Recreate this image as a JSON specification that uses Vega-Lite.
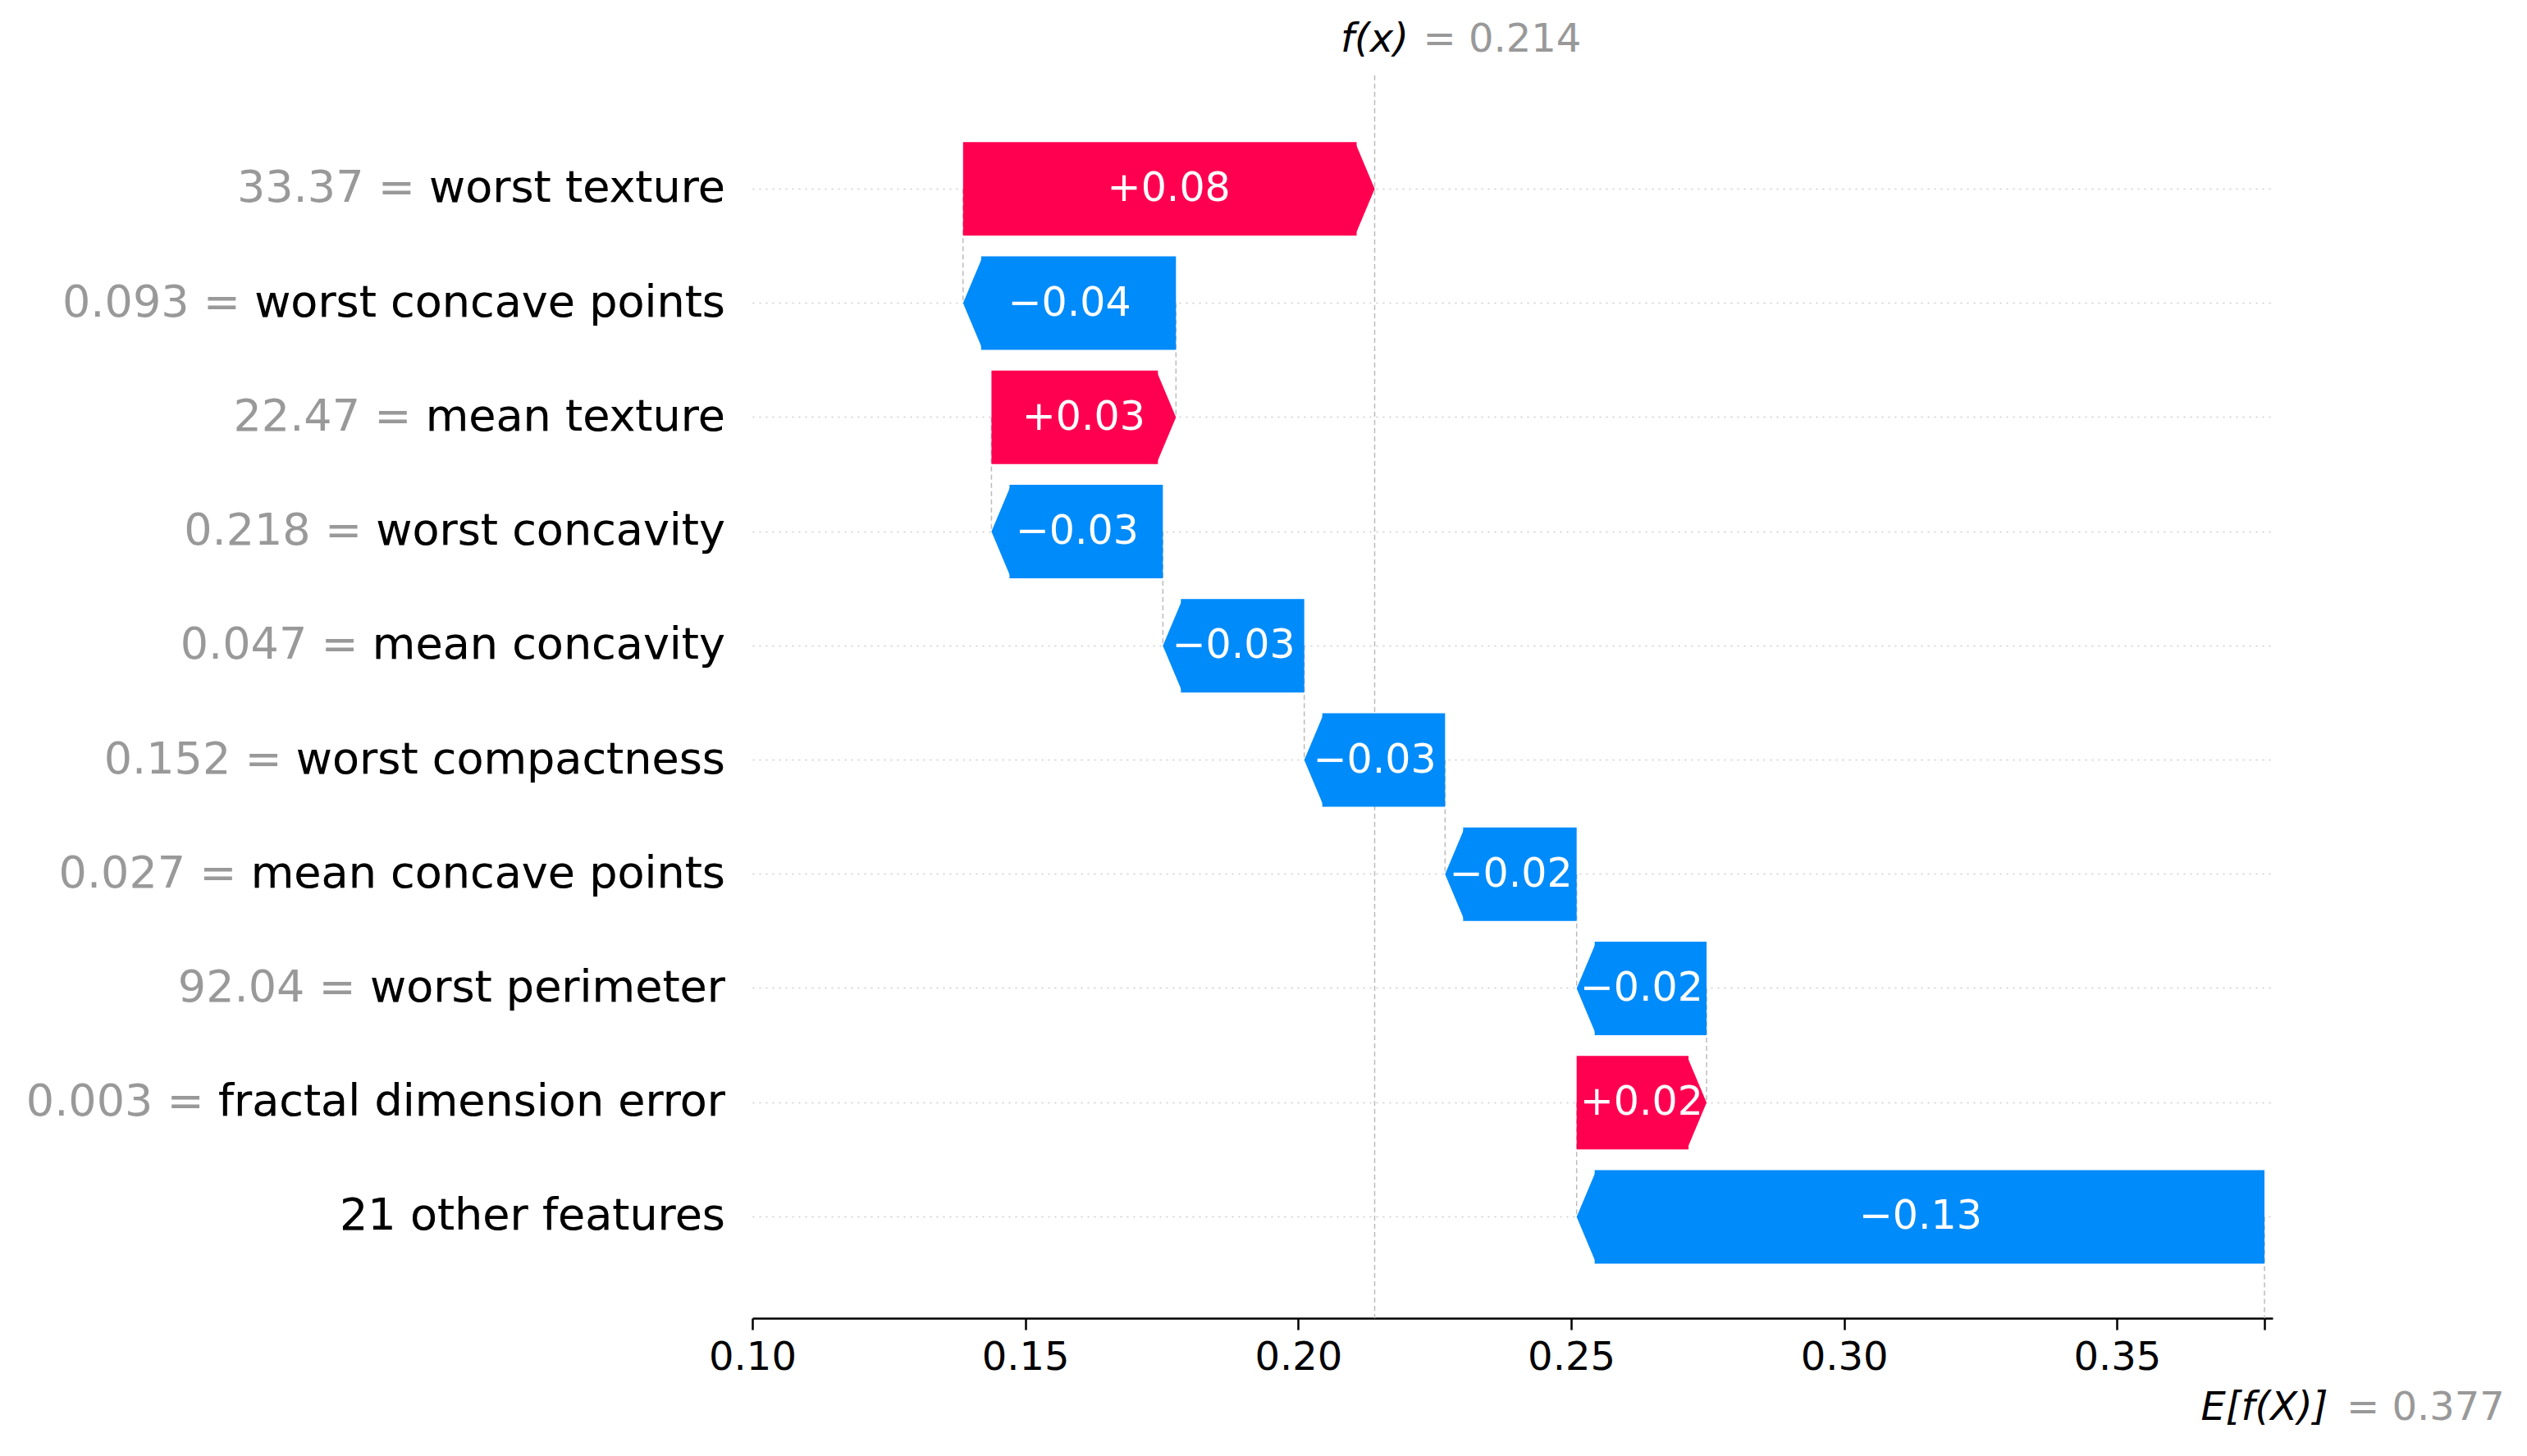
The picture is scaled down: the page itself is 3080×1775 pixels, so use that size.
{
  "$schema": "https://vega.github.io/schema/vega-lite/v6.json",
  "width": 1853,
  "height": 1515,
  "autosize": {"type": "none"},
  "padding": {"left": 917, "top": 92, "right": 310, "bottom": 168},
  "background": "white",
  "config": {"view": {"stroke": null}, "font": "DejaVu Sans"},
  "data": {
    "values": [
      {"feature": "worst texture", "full": "33.37 = worst texture", "start": 0.1386, "end": 0.214, "next": "worst concave points", "sign": "pos", "shap": "+0.08"},
      {"feature": "worst concave points", "full": "0.093 = worst concave points", "start": 0.1776, "end": 0.1386, "next": "mean texture", "sign": "neg", "shap": "−0.04"},
      {"feature": "mean texture", "full": "22.47 = mean texture", "start": 0.1438, "end": 0.1776, "next": "worst concavity", "sign": "pos", "shap": "+0.03"},
      {"feature": "worst concavity", "full": "0.218 = worst concavity", "start": 0.1752, "end": 0.1438, "next": "mean concavity", "sign": "neg", "shap": "−0.03"},
      {"feature": "mean concavity", "full": "0.047 = mean concavity", "start": 0.2011, "end": 0.1752, "next": "worst compactness", "sign": "neg", "shap": "−0.03"},
      {"feature": "worst compactness", "full": "0.152 = worst compactness", "start": 0.2269, "end": 0.2011, "next": "mean concave points", "sign": "neg", "shap": "−0.03"},
      {"feature": "mean concave points", "full": "0.027 = mean concave points", "start": 0.251, "end": 0.2269, "next": "worst perimeter", "sign": "neg", "shap": "−0.02"},
      {"feature": "worst perimeter", "full": "92.04 = worst perimeter", "start": 0.2748, "end": 0.251, "next": "fractal dimension error", "sign": "neg", "shap": "−0.02"},
      {"feature": "fractal dimension error", "full": "0.003 = fractal dimension error", "start": 0.251, "end": 0.2748, "next": "21 other features", "sign": "pos", "shap": "+0.02"},
      {"feature": "21 other features", "full": "21 other features", "start": 0.377, "end": 0.251, "next": null, "sign": "neg", "shap": "−0.13"}
    ]
  },
  "encoding": {
    "y": {
      "field": "feature", "type": "nominal", "sort": null,
      "scale": {"paddingInner": 0.18, "paddingOuter": 0.53, "align": 0.55},
      "axis": {"title": null, "labels": false, "ticks": false, "domain": false, "grid": true, "gridDash": [2, 6], "gridColor": "#cccccc", "gridWidth": 1.5, "bandPosition": 0.5}
    }
  },
  "layer": [
    {
      "transform": [{"filter": "datum.next != null"}],
      "mark": {"type": "rule", "color": "#bbbbbb", "strokeWidth": 1.5, "strokeDash": [6, 4]},
      "encoding": {
        "x": {"field": "start", "type": "quantitative", "scale": {"domain": [0.1, 0.3785], "nice": false, "zero": false},
          "axis": {"title": null, "grid": false, "values": [0.1, 0.15, 0.2, 0.25, 0.3, 0.35, 0.377], "labelExpr": "datum.value > 0.37 ? '' : format(datum.value, '.2f')", "labelFlush": false, "labelFontSize": 48, "labelColor": "#000", "labelPadding": 10, "domainColor": "#000", "domainWidth": 2.5, "tickColor": "#000", "tickWidth": 2.5, "tickSize": 14}},
        "y2": {"field": "next"}
      }
    },
    {
      "data": {"values": [{}]},
      "mark": {"type": "rule", "color": "#bbbbbb", "strokeWidth": 1.5, "strokeDash": [6, 4]},
      "encoding": {"x": {"datum": 0.214}, "y": {"value": 0}, "y2": {"value": 1515}}
    },
    {
      "data": {"values": [{}]},
      "mark": {"type": "rule", "color": "#bbbbbb", "strokeWidth": 1.5, "strokeDash": [6, 4]},
      "encoding": {"x": {"datum": 0.377}, "y": {"datum": "21 other features"}, "y2": {"value": 1515}}
    },
    {
      "transform": [{"filter": "datum.sign == 'pos'"}],
      "mark": {"type": "bar", "color": "#ff0051", "x2Offset": -22},
      "encoding": {"x": {"field": "start", "type": "quantitative"}, "x2": {"field": "end"}}
    },
    {
      "transform": [{"filter": "datum.sign == 'pos'"}],
      "mark": {"type": "point", "filled": true, "opacity": 1, "color": "#ff0051", "size": 12996, "shape": "M-0.42,-1L0,0L-0.42,1Z"},
      "encoding": {"x": {"field": "end", "type": "quantitative"}}
    },
    {
      "transform": [{"filter": "datum.sign == 'neg'"}],
      "mark": {"type": "bar", "color": "#008bfb", "x2Offset": 22},
      "encoding": {"x": {"field": "start", "type": "quantitative"}, "x2": {"field": "end"}}
    },
    {
      "transform": [{"filter": "datum.sign == 'neg'"}],
      "mark": {"type": "point", "filled": true, "opacity": 1, "color": "#008bfb", "size": 12996, "shape": "M0.42,-1L0,0L0.42,1Z"},
      "encoding": {"x": {"field": "end", "type": "quantitative"}}
    },
    {
      "transform": [{"calculate": "(datum.start + datum.end) / 2", "as": "mid"}],
      "mark": {"type": "text", "color": "white", "fontSize": 49, "align": "center", "baseline": "middle"},
      "encoding": {"x": {"field": "mid", "type": "quantitative"}, "text": {"field": "shap"}}
    },
    {
      "mark": {"type": "text", "color": "#999999", "fontSize": 54, "align": "right", "baseline": "middle", "dx": -33},
      "encoding": {"x": {"datum": 0.1}, "text": {"field": "full"}}
    },
    {
      "mark": {"type": "text", "color": "#000000", "fontSize": 54, "align": "right", "baseline": "middle", "dx": -33},
      "encoding": {"x": {"datum": 0.1}, "text": {"field": "feature"}}
    },
    {
      "data": {"values": [{}]},
      "mark": {"type": "text", "color": "#000000", "fontSize": 48, "fontStyle": "italic", "align": "center", "baseline": "middle", "dy": -181},
      "encoding": {"x": {"datum": 0.214}, "y": {"datum": "worst texture"}, "text": {"value": "f(x)"}}
    },
    {
      "data": {"values": [{}]},
      "mark": {"type": "text", "color": "#999999", "fontSize": 48, "align": "left", "baseline": "middle", "dy": -181, "dx": 59},
      "encoding": {"x": {"datum": 0.214}, "y": {"datum": "worst texture"}, "text": {"value": "= 0.214"}}
    },
    {
      "data": {"values": [{}]},
      "mark": {"type": "text", "color": "#000000", "fontSize": 48, "fontStyle": "italic", "align": "center", "baseline": "middle", "dy": 234},
      "encoding": {"x": {"datum": 0.377}, "y": {"datum": "21 other features"}, "text": {"value": "E[f(X)]"}}
    },
    {
      "data": {"values": [{}]},
      "mark": {"type": "text", "color": "#999999", "fontSize": 48, "align": "left", "baseline": "middle", "dy": 234, "dx": 100},
      "encoding": {"x": {"datum": 0.377}, "y": {"datum": "21 other features"}, "text": {"value": "= 0.377"}}
    }
  ]
}
